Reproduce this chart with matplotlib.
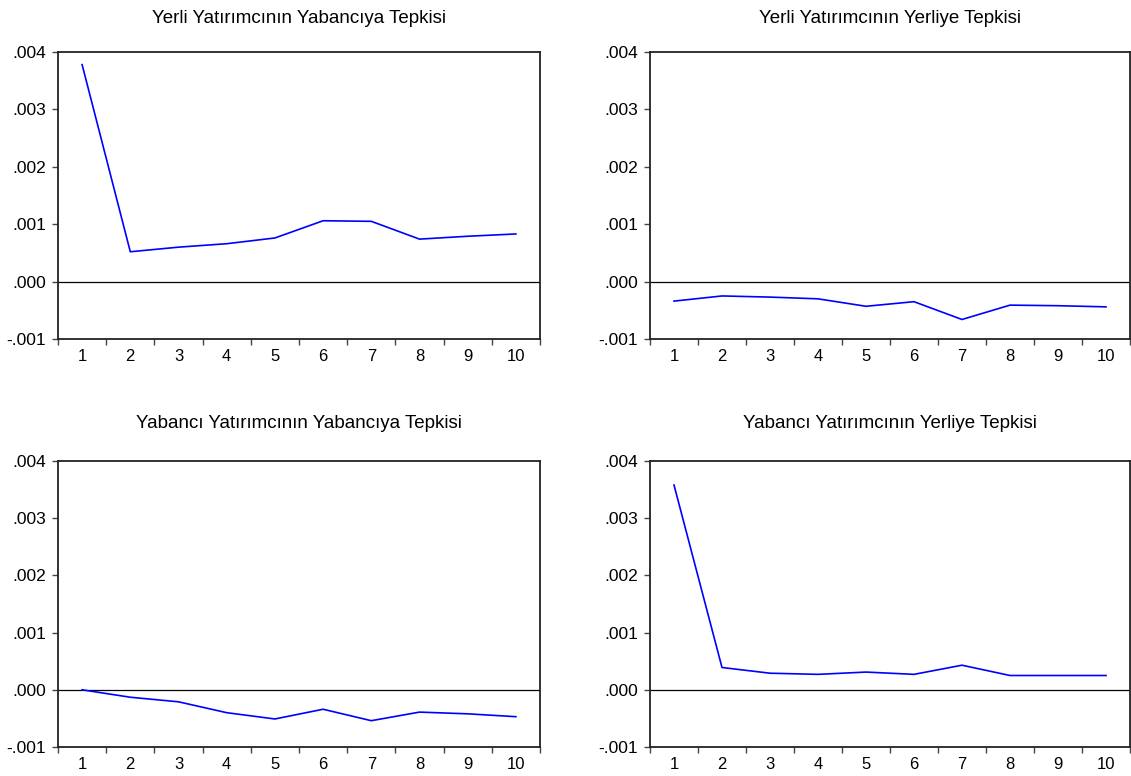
import matplotlib
matplotlib.use("Agg")
import matplotlib.pyplot as plt
from matplotlib.ticker import FixedLocator, FuncFormatter, NullFormatter

plt.rcParams['font.family'] = ['Liberation Sans', 'DejaVu Sans']

periods = [1, 2, 3, 4, 5, 6, 7, 8, 9, 10]

titles = [
    "Yerli Yatırımcının Yabancıya Tepkisi",
    "Yerli Yatırımcının Yerliye Tepkisi",
    "Yabancı Yatırımcının Yabancıya Tepkisi",
    "Yabancı Yatırımcının Yerliye Tepkisi",
]

yerli_yabanciya = [0.00378, 0.00052, 0.00060, 0.00066, 0.00076,
                   0.00106, 0.00105, 0.00074, 0.00079, 0.00083]
yerli_yerliye = [-0.00034, -0.00025, -0.00027, -0.00030, -0.00043,
                 -0.00035, -0.00066, -0.00041, -0.00042, -0.00044]
yabanci_yabanciya = [0.00000, -0.00013, -0.00021, -0.00040, -0.00051,
                     -0.00034, -0.00054, -0.00039, -0.00042, -0.00047]
yabanci_yerliye = [0.00358, 0.00039, 0.00029, 0.00027, 0.00031,
                   0.00027, 0.00043, 0.00025, 0.00025, 0.00025]

y_ticks = [-0.001, 0.000, 0.001, 0.002, 0.003, 0.004]

series = [yerli_yabanciya, yerli_yerliye, yabanci_yabanciya, yabanci_yerliye]

W, H = 1131, 776
fig = plt.figure(figsize=(W / 100, H / 100), dpi=100)

# panel boxes in pixels: (left, top, right, bottom), plus title pad in points
boxes = [
    (58, 52, 540, 339),
    (650, 52, 1130, 339),
    (58, 461, 540, 747),
    (650, 461, 1130, 747),
]
title_pads = [21, 21, 23.5, 23.5]


def fmt(v, pos):
    s = f"{v:.3f}"
    if s.startswith("-0"):
        return "-" + s[2:]
    if s.startswith("0"):
        return s[1:]
    return s


for box, title, vals, tpad in zip(boxes, titles, series, title_pads):
    l, t, r, b = box
    ax = fig.add_axes([l / W, 1 - b / H, (r - l) / W, (b - t) / H])
    ax.plot(periods, vals, color="#0000ff", lw=1.2)
    ax.axhline(0, color="black", lw=0.9, zorder=1)
    ax.set_xlim(0.5, 10.5)
    ax.set_ylim(-0.001, 0.004)

    ax.xaxis.set_major_locator(FixedLocator([p - 0.5 for p in periods] + [10.5]))
    ax.xaxis.set_major_formatter(NullFormatter())
    ax.xaxis.set_minor_locator(FixedLocator(periods))
    ax.xaxis.set_minor_formatter(FuncFormatter(lambda v, p: f"{int(round(v))}"))
    ax.tick_params(axis="x", which="major", direction="out", length=4.5,
                   width=1.0, color="#444444")
    ax.tick_params(axis="x", which="minor", length=0, pad=7, labelsize=12)

    ax.yaxis.set_major_locator(FixedLocator(y_ticks))
    ax.yaxis.set_major_formatter(FuncFormatter(fmt))
    ax.tick_params(axis="y", which="major", direction="out", length=4.5,
                   width=1.0, color="#444444", pad=4, labelsize=12.5)

    for sp in ax.spines.values():
        sp.set_linewidth(1.3)
        sp.set_color("#222222")

    ax.set_title(title, fontsize=13.5, pad=tpad)

fig.savefig("out.png", dpi=100)
